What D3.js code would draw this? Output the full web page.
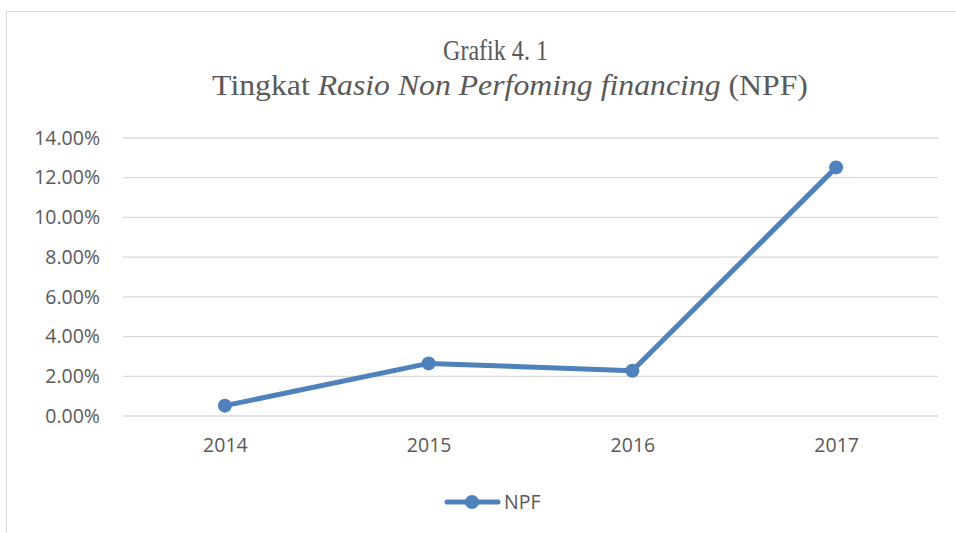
<!DOCTYPE html>
<html>
<head>
<meta charset="utf-8">
<script src="https://cdn.jsdelivr.net/npm/d3@7"></script>
<style>
  html, body { margin: 0; padding: 0; background: #fff; }
  svg { display: block; }
</style>
</head>
<body>
<svg id="chart" width="956" height="533"></svg>
<script>
const categories = ["2014", "2015", "2016", "2017"];
const npfValues = [0.0052, 0.0265, 0.0228, 0.1252];
const yTicks = [0, 0.02, 0.04, 0.06, 0.08, 0.10, 0.12, 0.14];
const seriesName = "NPF";

const svg = d3.select("#chart");
const W = 956, H = 533;
const margin = { left: 123, right: 18, top: 138, bottom: 117 };
const plotW = W - margin.left - margin.right;
const plotH = H - margin.top - margin.bottom;
const textColor = "#595959";
const lineColor = "#4f81bd";
const sansFont = "'Open Sans', 'Liberation Sans', sans-serif";
const serifFont = "'Liberation Serif', 'Times New Roman', serif";

svg.append("rect").attr("x", 6.5).attr("y", 11.5).attr("width", 1000).attr("height", 600)
  .attr("fill", "#fff").attr("stroke", "#d9d9d9").attr("stroke-width", 1);

// Title (fit each line to the measured width of the reference)
function fitLine(sel, left, right) {
  const cx = (left + right) / 2;
  sel.attr("x", cx).attr("text-anchor", "middle");
  const w = sel.node().getComputedTextLength();
  const sx = (right - left) / w;
  sel.attr("transform", `translate(${cx},0) scale(${sx},1) translate(${-cx},0)`);
}
const t1 = svg.append("text").attr("font-family", serifFont).attr("font-size", 30)
  .attr("fill", textColor).attr("y", 60).text("Grafik 4. 1");
fitLine(t1, 443, 548);
const t2 = svg.append("text").attr("font-family", serifFont).attr("font-size", 30)
  .attr("fill", textColor).attr("y", 95);
t2.append("tspan").text("Tingkat ");
t2.append("tspan").attr("font-style", "italic").text("Rasio Non Perfoming financing");
t2.append("tspan").text(" (NPF)");
fitLine(t2, 212, 808);

const g = svg.append("g").attr("transform", `translate(${margin.left},${margin.top})`);

const x = d3.scalePoint().domain(categories).range([0, plotW]).padding(0.5);
const y = d3.scaleLinear().domain([0, 0.14]).range([plotH, 0]);

// gridlines
g.selectAll("line.grid").data(yTicks).join("line").attr("class", "grid")
  .attr("x1", 0).attr("x2", plotW)
  .attr("y1", d => y(d)).attr("y2", d => y(d))
  .attr("stroke", "#d9d9d9").attr("stroke-width", 1.3);

// y axis labels
const yAxis = d3.axisLeft(y).tickValues(yTicks).tickFormat(d3.format(".2%")).tickSize(0).tickPadding(23);
const ya = g.append("g").call(yAxis);
ya.select(".domain").remove();
ya.selectAll("text").attr("font-family", sansFont)
  .attr("font-size", 19.5).attr("fill", textColor);

// x axis labels
const xAxis = d3.axisBottom(x).tickSize(0).tickPadding(22);
const xa = g.append("g").attr("transform", `translate(0,${plotH})`).call(xAxis);
xa.select(".domain").remove();
xa.selectAll("text").attr("font-family", sansFont)
  .attr("font-size", 19.5).attr("fill", textColor);

// line
const data = categories.map((c, i) => ({ c, v: npfValues[i] }));
g.append("path").datum(data)
  .attr("fill", "none").attr("stroke", lineColor).attr("stroke-width", 5)
  .attr("stroke-linejoin", "round").attr("stroke-linecap", "round")
  .attr("d", d3.line().x(d => x(d.c)).y(d => y(d.v)));
g.selectAll("circle.pt").data(data).join("circle").attr("class", "pt")
  .attr("cx", d => x(d.c)).attr("cy", d => y(d.v)).attr("r", 7)
  .attr("fill", lineColor);

// legend
const lg = svg.append("g").attr("transform", "translate(0,502)");
lg.append("line").attr("x1", 447).attr("x2", 498).attr("y1", 0).attr("y2", 0)
  .attr("stroke", lineColor).attr("stroke-width", 5).attr("stroke-linecap", "round");
lg.append("circle").attr("cx", 472).attr("cy", 0).attr("r", 7).attr("fill", lineColor);
lg.append("text").attr("x", 504).attr("y", 7).text(seriesName)
  .attr("font-family", sansFont)
  .attr("font-size", 19.5).attr("fill", textColor);
</script>
</body>
</html>
